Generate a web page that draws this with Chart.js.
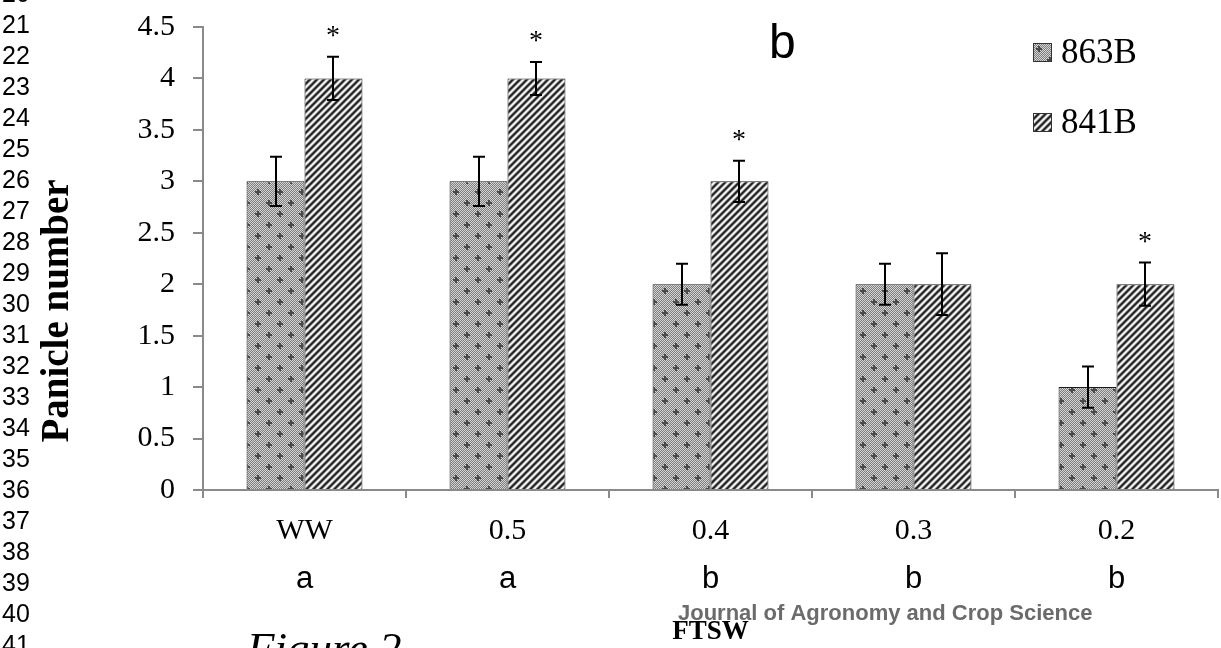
<!DOCTYPE html>
<html>
<head>
<meta charset="utf-8">
<script src="https://cdn.jsdelivr.net/npm/chart.js@4.4.1/dist/chart.umd.min.js"></script>
<style>
  html, body { margin: 0; padding: 0; background: #fff; }
  #wrap { position: relative; width: 1221px; height: 648px; overflow: hidden; }
</style>
</head>
<body>
<div id="wrap"><canvas id="grafico" width="1221" height="648"></canvas></div>
<script>
// Dados do gráfico
const categorias = ['WW', '0.5', '0.4', '0.3', '0.2'];
const letrasGrupo = ['a', 'a', 'b', 'b', 'b'];
const valores863 = [3, 3, 2, 2, 1];
const valores841 = [4, 4, 3, 2, 2];
const erros863 = [0.24, 0.24, 0.2, 0.2, 0.2];
const erros841 = [0.21, 0.16, 0.2, 0.3, 0.21];
const asteriscos841 = ['*', '*', '*', '', '*'];
const numerosLinha = [20, 21, 22, 23, 24, 25, 26, 27, 28, 29, 30, 31, 32, 33, 34, 35, 36, 37, 38, 39, 40, 41];

const serif = '"Liberation Serif", "Times New Roman", serif';
const sans = '"Liberation Sans", Arial, sans-serif';
const narrow = '"Liberation Sans Narrow", "Arial Narrow", "Liberation Sans", Arial, sans-serif';

// Padrão pontilhado (863B)
function padraoPontos() {
    const c = document.createElement('canvas');
    c.width = 22; c.height = 22;
    const g = c.getContext('2d');
    for (let y = 0; y < 22; y++) {
        for (let x = 0; x < 22; x++) {
            g.fillStyle = (x + y) % 2 === 0 ? '#d4d4d4' : '#7e7e7e';
            g.fillRect(x, y, 1, 1);
        }
    }
    g.fillStyle = '#4a4a4a';
    [[5, 5], [16, 16]].forEach(([cx, cy]) => {
        g.fillRect(cx - 3, cy - 1, 6, 2);
        g.fillRect(cx - 1, cy - 3, 2, 6);
    });
    return g.createPattern(c, 'repeat');
}

// Padrão listrado diagonal (841B)
function padraoListras() {
    const n = 7;
    const c = document.createElement('canvas');
    c.width = n; c.height = n;
    const g = c.getContext('2d');
    const img = g.createImageData(n, n);
    for (let y = 0; y < n; y++) {
        for (let x = 0; x < n; x++) {
            const v = 0.5 + 0.5 * Math.cos(2 * Math.PI * (x + y) / n);
            const k = Math.round(25 + 230 * v);
            const i = (y * n + x) * 4;
            img.data[i] = k; img.data[i + 1] = k; img.data[i + 2] = k; img.data[i + 3] = 255;
        }
    }
    g.putImageData(img, 0, 0);
    return g.createPattern(c, 'repeat');
}

const ctx = document.getElementById('grafico').getContext('2d');
const p863 = padraoPontos();
const p841 = padraoListras();

// Barras de erro, asteriscos, letras, legenda e textos soltos
const extras = {
    id: 'extras',
    afterDatasetsDraw(chart) {
        const c = chart.ctx;
        const ys = chart.scales.y;
        const erros = [erros863, erros841];
        c.save();
        c.strokeStyle = '#000';
        c.lineWidth = 2;
        chart.data.datasets.forEach((ds, di) => {
            chart.getDatasetMeta(di).data.forEach((bar, i) => {
                const v = ds.data[i], e = erros[di][i];
                const yt = ys.getPixelForValue(v + e);
                const yb = ys.getPixelForValue(v - e);
                const x = Math.round(bar.x);
                c.beginPath();
                c.moveTo(x, yt); c.lineTo(x, yb);
                c.moveTo(x - 6, yt); c.lineTo(x + 6, yt);
                c.moveTo(x - 6, yb); c.lineTo(x + 6, yb);
                c.stroke();
                if (di === 1 && asteriscos841[i]) {
                    c.fillStyle = '#000';
                    c.font = '28px ' + serif;
                    c.textAlign = 'center';
                    c.textBaseline = 'alphabetic';
                    c.fillText(asteriscos841[i], x, yt - 13);
                }
            });
        });
        c.restore();
    },
    afterDraw(chart) {
        const c = chart.ctx;
        const xs = chart.scales.x;
        c.save();
        c.fillStyle = '#000';
        c.textBaseline = 'alphabetic';

        // letras dos grupos
        c.font = '31px ' + narrow;
        c.textAlign = 'center';
        letrasGrupo.forEach((l, i) => c.fillText(l, xs.getPixelForValue(i), 588));

        // números de linha do manuscrito
        c.textAlign = 'left';
        c.font = '25px ' + sans;
        numerosLinha.forEach(n => c.fillText(String(n), 2, 33 + (n - 21) * 31));

        // título do eixo y
        c.save();
        c.translate(68, 311);
        c.rotate(-Math.PI / 2);
        c.textAlign = 'center';
        c.font = 'bold 39px ' + serif;
        c.fillText('Panicle number', 0, 0);
        c.restore();

        // letra do painel
        c.font = '48px ' + sans;
        c.fillText('b', 769, 58);

        // legenda
        const itens = [['863B', p863, 63], ['841B', p841, 133]];
        itens.forEach(([txt, pat, base]) => {
            c.fillStyle = pat;
            c.fillRect(1033, base - 20, 19, 19);
            c.strokeStyle = '#333';
            c.lineWidth = 1;
            c.strokeRect(1033.5, base - 19.5, 18, 18);
            c.fillStyle = '#000';
            c.font = '35px ' + serif;
            c.fillText(txt, 1061, base);
        });

        // fonte da revista
        c.fillStyle = '#6b6b6b';
        c.font = 'bold 22px ' + sans;
        c.fillText('Journal of Agronomy and Crop Science', 678, 620);

        // legenda da figura
        c.fillStyle = '#000';
        c.font = 'italic 45px ' + serif;
        c.fillText('Figure 2', 247, 663);
        c.restore();
    }
};

new Chart(ctx, {
    type: 'bar',
    data: {
        labels: categorias,
        datasets: [
            {
                label: '863B',
                data: valores863,
                backgroundColor: p863,
                borderColor: '#1a1a1a',
                borderWidth: 1
            },
            {
                label: '841B',
                data: valores841,
                backgroundColor: p841,
                borderColor: '#1a1a1a',
                borderWidth: 1
            }
        ]
    },
    options: {
        responsive: false,
        animation: false,
        categoryPercentage: 0.571,
        barPercentage: 1.0,
        layout: { padding: { top: 27, right: 3, left: 0, bottom: 0 } },
        plugins: {
            legend: { display: false },
            tooltip: { enabled: false }
        },
        scales: {
            x: {
                grid: { drawOnChartArea: false, drawTicks: true, tickLength: 8, color: '#8a8a8a', lineWidth: 2 },
                border: { color: '#8a8a8a', width: 2 },
                ticks: { color: '#000', font: { family: serif, size: 30 }, padding: 15 },
                title: {
                    display: true,
                    text: 'FTSW',
                    color: '#000',
                    font: { family: serif, size: 27, weight: 'bold' },
                    padding: { top: 0, bottom: 0 }
                },
                afterFit(s) { s.height = 158; }
            },
            y: {
                min: 0,
                max: 4.5,
                grid: { drawOnChartArea: false, drawTicks: true, tickLength: 10, color: '#8a8a8a', lineWidth: 2 },
                border: { color: '#8a8a8a', width: 2 },
                ticks: {
                    stepSize: 0.5,
                    color: '#000',
                    font: { family: serif, size: 30, lineHeight: 0.4 },
                    padding: 18,
                    callback: v => String(Math.round(v * 10) / 10)
                },
                afterFit(s) { s.width = 203; }
            }
        }
    },
    plugins: [extras]
});
</script>
</body>
</html>
